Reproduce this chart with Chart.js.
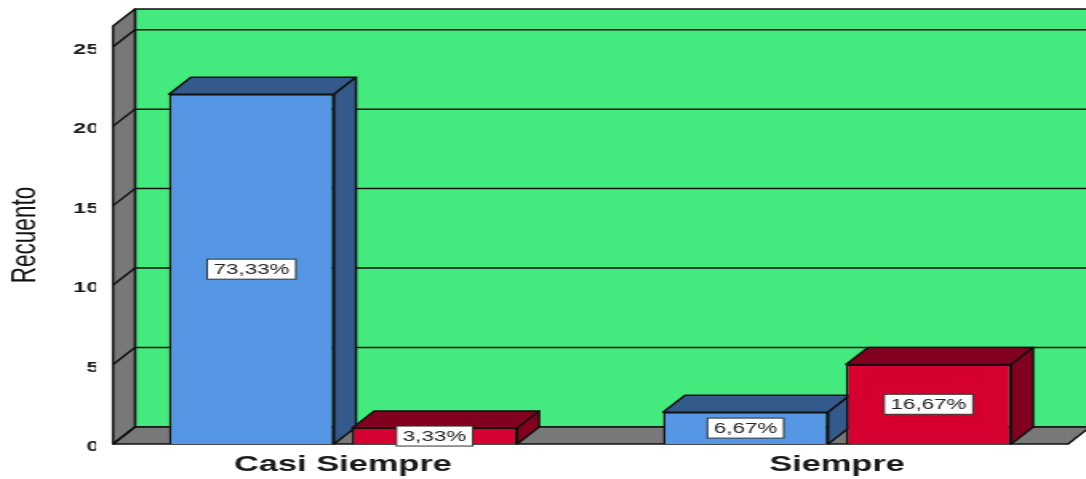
<!DOCTYPE html>
<html lang="es">
<head>
  <meta charset="UTF-8">
  <title>Recuento</title>
  <style>
    html, body {
      margin: 0;
      padding: 0;
      background: #fff;
      overflow: hidden;
    }
    /* the reference image is stretched sideways, so the chart is drawn narrow and widened */
    .wrap {
      width: 679px;
      height: 479px;
      transform: scaleX(1.59941);
      transform-origin: 0 0;
    }
  </style>
  <script src="https://cdn.jsdelivr.net/npm/chart.js"></script>
</head>
<body>
  <div class="wrap"><canvas id="chart"></canvas></div>

  <script>
    const categories = ['Casi Siempre', 'Siempre'];
    const blueCounts = [22, 2];
    const redCounts = [1, 5];
    const yTicks = [0, 5, 10, 15, 20, 25];

    const total = [...blueCounts, ...redCounts].reduce((a, b) => a + b, 0);
    const pct = v => (v / total * 100).toFixed(2).replace('.', ',') + '%';

    const DX = 13.75, DY = 17;          // depth of the 3D box
    const FLOOR_L = 10.65, FLOOR_R = 10.05;
    const GREEN = '#43EB7E', GRAY = '#787878', EDGE = '#111';

    function poly(ctx, pts, fill) {
      ctx.beginPath();
      ctx.moveTo(pts[0][0], pts[0][1]);
      for (let i = 1; i < pts.length; i++) ctx.lineTo(pts[i][0], pts[i][1]);
      ctx.closePath();
      ctx.fillStyle = fill;
      ctx.fill();
      ctx.stroke();
    }

    const depthPlugin = {
      id: 'depth',
      beforeDatasetsDraw(chart) {
        const { ctx, chartArea: a, scales: { y } } = chart;
        const x0 = a.left + FLOOR_L, x1 = a.right - FLOOR_R;
        const top = a.top, bottom = a.bottom;
        ctx.save();
        ctx.lineWidth = 1.5;
        ctx.strokeStyle = EDGE;
        ctx.lineJoin = 'round';

        // back wall, side wall, floor
        poly(ctx, [[x0 + DX, top - DY], [x1 + DX + 20, top - DY], [x1 + DX + 20, bottom - DY], [x0 + DX, bottom - DY]], GREEN);
        poly(ctx, [[x0, top], [x0 + DX, top - DY], [x0 + DX, bottom - DY], [x0, bottom]], GRAY);
        poly(ctx, [[x0, bottom], [x0 + DX, bottom - DY], [x1 + DX, bottom - DY], [x1, bottom]], GRAY);

        // grid lines on the walls
        ctx.beginPath();
        yTicks.forEach(v => {
          const py = y.getPixelForValue(v);
          if (v > 0) {
            ctx.moveTo(x0 + DX, py - DY);
            ctx.lineTo(x1 + DX + 20, py - DY);
          }
          ctx.moveTo(x0, py);
          ctx.lineTo(x0 + DX, py - DY);
        });
        ctx.stroke();

        // top and side faces of the bars
        chart.data.datasets.forEach((ds, i) => {
          chart.getDatasetMeta(i).data.forEach(bar => {
            const { x, y: ty, base, width } = bar.getProps(['x', 'y', 'base', 'width'], true);
            const l = x - width / 2, r = x + width / 2;
            poly(ctx, [[l, ty], [l + DX, ty - DY], [r + DX, ty - DY], [r, ty]], ds.depthColor);
            poly(ctx, [[r, ty], [r + DX, ty - DY], [r + DX, base - DY], [r, base]], ds.depthColor);
          });
        });
        ctx.restore();
      },
      afterDatasetsDraw(chart) {
        const { ctx } = chart;
        ctx.save();
        ctx.font = '14px "Liberation Sans", Arial, sans-serif';
        ctx.textAlign = 'center';
        ctx.textBaseline = 'middle';
        chart.data.datasets.forEach((ds, i) => {
          chart.getDatasetMeta(i).data.forEach((bar, j) => {
            const { x, y: ty, base } = bar.getProps(['x', 'y', 'base'], true);
            const text = pct(ds.data[j]);
            const w = ctx.measureText(text).width + 8, h = 20;
            const cy = (ty + base) / 2;
            ctx.fillStyle = '#fff';
            ctx.fillRect(x - w / 2, cy - h / 2, w, h);
            ctx.strokeStyle = '#333';
            ctx.lineWidth = 1;
            ctx.strokeRect(x - w / 2, cy - h / 2, w, h);
            ctx.fillStyle = '#222';
            ctx.fillText(text, x, cy + 1);
          });
        });
        ctx.restore();
      }
    };

    new Chart(document.getElementById('chart'), {
      type: 'bar',
      data: {
        labels: categories,
        datasets: [{
          label: 'Azul',
          data: blueCounts,
          backgroundColor: '#5596E5',
          depthColor: '#345A8C',
          borderColor: EDGE,
          borderWidth: 1.5,
          barPercentage: 0.902,
          categoryPercentage: 0.741
        }, {
          label: 'Rojo',
          data: redCounts,
          backgroundColor: '#D60030',
          depthColor: '#82001E',
          borderColor: EDGE,
          borderWidth: 1.5,
          barPercentage: 0.902,
          categoryPercentage: 0.741
        }]
      },
      options: {
        responsive: true,
        maintainAspectRatio: false,
        animation: false,
        layout: { padding: { top: 26, right: 1.2, left: 0, bottom: 0 } },
        plugins: {
          legend: { display: false },
          tooltip: { enabled: false }
        },
        scales: {
          x: {
            grid: { display: false, drawTicks: false },
            border: { display: false },
            ticks: {
              color: '#1a1a1a',
              padding: 8,
              font: { family: '"Liberation Sans", Arial, sans-serif', size: 21.5, weight: 'bold' }
            },
            afterFit: s => { s.height = 35; }
          },
          y: {
            min: 0,
            max: 26.3,
            grid: { display: false, drawTicks: false },
            border: { display: false },
            ticks: {
              color: '#1a1a1a',
              padding: -2,
              labelOffset: 3,
              font: { family: '"Liberation Sans", Arial, sans-serif', size: 14.5, weight: 'bold' }
            },
            afterBuildTicks: s => { s.ticks = yTicks.map(v => ({ value: v })); },
            afterFit: s => { s.width = 60; },
            title: {
              display: true,
              text: 'Recuento',
              color: '#111',
              padding: { top: 2, bottom: 0 },
              font: { family: '"Liberation Sans", Arial, sans-serif', size: 22.5 }
            }
          }
        }
      },
      plugins: [depthPlugin]
    });
  </script>
</body>
</html>
